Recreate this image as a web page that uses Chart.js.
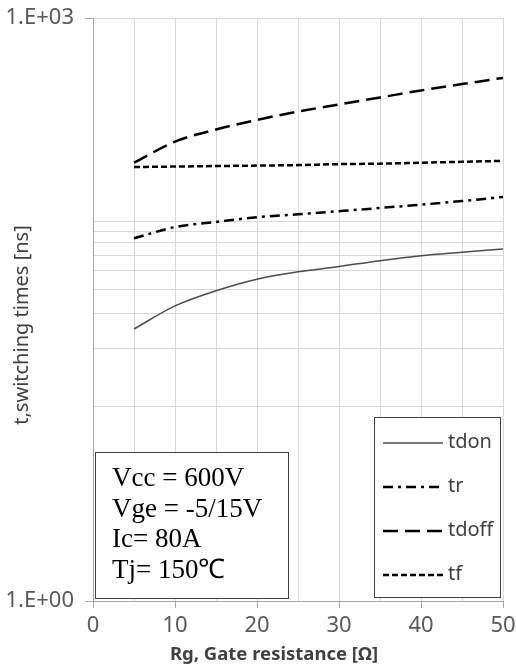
<!DOCTYPE html>
<html>
<head>
<meta charset="utf-8">
<script src="https://cdn.jsdelivr.net/npm/chart.js@4.4.1/dist/chart.umd.min.js"></script>
<style>
  html, body { margin: 0; padding: 0; background: #fff; }
  #wrap { width: 516px; height: 665px; }
</style>
</head>
<body>
<div id="wrap"><canvas id="chart" width="516" height="665"></canvas></div>
<script>
// gate resistance [ohm]
const rg = [5, 10, 15, 20, 25, 30, 35, 40, 45, 50];
// switching times [ns]
const tdon = [25.1, 33, 39.5, 45.3, 49.4, 52.6, 56.4, 59.8, 62.3, 64.8];
const tr = [73.5, 84, 89.2, 94.3, 97.7, 101.4, 105.3, 109.5, 114.3, 120];
const tdoff = [180, 231, 267, 299, 330, 359, 390, 424, 457, 492];
const tf = [171, 172, 173, 174, 175, 177, 178, 180, 182, 184];

const yTickValues = [1, 10, 20, 30, 40, 50, 60, 70, 80, 90, 1000];
const yTickLabels = { 1: "1.E+00", 1000: "1.E+03" };
const conditions = ["Vcc = 600V", "Vge = -5/15V", "Ic= 80A", "Tj= 150\u2103"];

const toPoints = (vals) => rg.map((x, i) => ({ x: x, y: vals[i] }));

const series = [
  { label: "tdon", data: tdon, color: "#4d4d4d", width: 1.5, dash: [] },
  { label: "tr", data: tr, color: "#000000", width: 2.5, dash: [10, 5, 3, 5] },
  { label: "tdoff", data: tdoff, color: "#000000", width: 2.5, dash: [15, 7] },
  { label: "tf", data: tf, color: "#000000", width: 2.5, dash: [6, 3] },
];

const overlay = {
  id: "overlay",
  afterDraw(chart) {
    const ctx = chart.ctx;
    ctx.save();

    // conditions box
    ctx.fillStyle = "#fff";
    ctx.fillRect(95.5, 452.5, 193, 146);
    ctx.strokeStyle = "#404040";
    ctx.lineWidth = 1;
    ctx.strokeRect(95.5, 452.5, 193, 146);
    ctx.fillStyle = "#000";
    ctx.font = '27px "Liberation Serif"';
    ctx.textBaseline = "alphabetic";
    ctx.textAlign = "left";
    conditions.forEach((t, i) => ctx.fillText(t, 112, 486 + i * 30.5));

    // legend box
    ctx.fillStyle = "#fff";
    ctx.fillRect(374.5, 417.5, 126, 180);
    ctx.strokeStyle = "#404040";
    ctx.strokeRect(374.5, 417.5, 126, 180);
    ctx.font = '20px "Noto Sans"';
    ctx.textBaseline = "middle";
    chart.data.datasets.forEach((ds, i) => {
      const y = 443 + i * 44;
      ctx.beginPath();
      ctx.strokeStyle = ds.borderColor;
      ctx.lineWidth = ds.borderWidth;
      ctx.setLineDash(ds.borderDash);
      ctx.moveTo(383, y);
      ctx.lineTo(443, y);
      ctx.stroke();
      ctx.setLineDash([]);
      ctx.fillStyle = "#404040";
      ctx.fillText(ds.label, 448, y - 1);
    });

    // axis titles
    ctx.fillStyle = "#404040";
    ctx.font = 'bold 18.5px "Noto Sans"';
    ctx.textAlign = "center";
    ctx.fillText("Rg, Gate resistance [\u03a9]", 274, 655);
    ctx.translate(22, 325);
    ctx.rotate(-Math.PI / 2);
    ctx.font = '20px "Noto Sans"';
    ctx.fillText("t,switching times [ns]", 0, 0);

    ctx.restore();
  },
};

new Chart(document.getElementById("chart"), {
  type: "line",
  data: {
    datasets: series.map((s) => ({
      label: s.label,
      data: toPoints(s.data),
      borderColor: s.color,
      borderWidth: s.width,
      borderDash: s.dash,
      pointRadius: 0,
      fill: false,
      cubicInterpolationMode: "monotone",
    })),
  },
  options: {
    responsive: false,
    animation: false,
    layout: { padding: { top: 18, right: 13, left: 0, bottom: 0 } },
    plugins: { legend: { display: false }, tooltip: { enabled: false } },
    scales: {
      x: {
        type: "linear",
        min: 0,
        max: 50,
        afterFit: (scale) => {
          scale.height = 64;
          scale.paddingLeft = 0;
          scale.paddingRight = 0;
        },
        ticks: {
          stepSize: 5,
          autoSkip: false,
          maxRotation: 0,
          padding: 5,
          color: "#595959",
          font: { family: "Noto Sans", size: 22 },
          callback: (v) => (v % 10 === 0 ? String(v) : ""),
        },
        grid: {
          color: "#d9d9d9",
          lineWidth: 1,
          tickLength: 7,
          tickColor: (c) => (c.tick && c.tick.value % 10 === 0 ? "#a6a6a6" : "rgba(0,0,0,0)"),
        },
        border: { color: "#a6a6a6", width: 1 },
      },
      y: {
        type: "logarithmic",
        min: 1,
        max: 1000,
        afterFit: (scale) => {
          scale.width = 93;
          scale.paddingTop = 0;
          scale.paddingBottom = 0;
        },
        afterBuildTicks: (scale) => {
          scale.ticks = yTickValues.map((v) => ({ value: v }));
        },
        ticks: {
          autoSkip: false,
          padding: 11,
          color: "#595959",
          font: { family: "Noto Sans", size: 22 },
          callback: (v) => yTickLabels[v] || "",
        },
        grid: {
          color: "#d9d9d9",
          lineWidth: 1,
          tickLength: 8,
          tickColor: (c) => (c.tick && yTickLabels[c.tick.value] ? "#a6a6a6" : "rgba(0,0,0,0)"),
        },
        border: { color: "#a6a6a6", width: 1 },
      },
    },
  },
  plugins: [overlay],
});
</script>
</body>
</html>
